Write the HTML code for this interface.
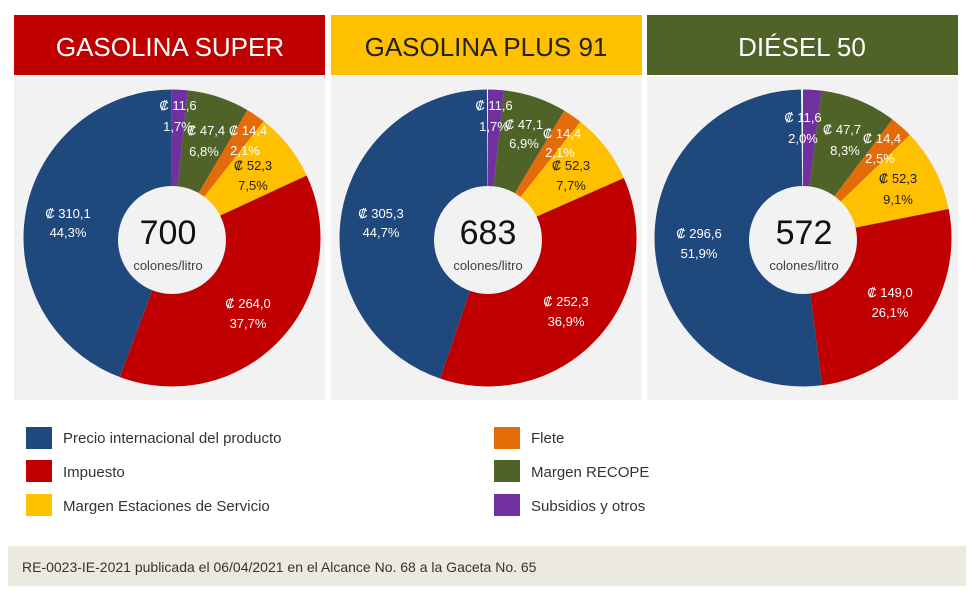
<!DOCTYPE html>
<html><head><meta charset="utf-8"><style>
body{margin:0;background:#fff;width:980px;height:596px;overflow:hidden;font-family:"Liberation Sans",sans-serif}
</style></head><body>
<svg width="980" height="596" xmlns="http://www.w3.org/2000/svg" font-family="Liberation Sans, sans-serif">
<rect x="14" y="76" width="311" height="324" fill="#f2f2f2"/>
<rect x="331" y="76" width="311" height="324" fill="#f2f2f2"/>
<rect x="647" y="76" width="311" height="324" fill="#f2f2f2"/>
<rect x="14" y="15" width="311" height="60" fill="#c00000"/>
<rect x="331" y="15" width="311" height="60" fill="#ffc000"/>
<rect x="647" y="15" width="311" height="60" fill="#4f6228"/>
<g font-size="26" text-anchor="middle">
<text x="170" y="56" fill="#fff">GASOLINA SUPER</text>
<text x="486" y="56" fill="#222">GASOLINA PLUS 91</text>
<text x="802" y="56" fill="#fff">DIÉSEL 50</text>
</g>
<g fill="none" stroke-width="97">
<g transform="rotate(-90 172 238)">
<circle cx="172" cy="238" r="100" pathLength="100" stroke="#7030a0" stroke-dasharray="1.7 100" stroke-dashoffset="0"/>
<circle cx="172" cy="238" r="100" pathLength="100" stroke="#4f6228" stroke-dasharray="6.8 100" stroke-dashoffset="-1.7"/>
<circle cx="172" cy="238" r="100" pathLength="100" stroke="#e36c09" stroke-dasharray="2.1 100" stroke-dashoffset="-8.5"/>
<circle cx="172" cy="238" r="100" pathLength="100" stroke="#ffc000" stroke-dasharray="7.5 100" stroke-dashoffset="-10.6"/>
<circle cx="172" cy="238" r="100" pathLength="100" stroke="#c00000" stroke-dasharray="37.7 100" stroke-dashoffset="-18.1"/>
<circle cx="172" cy="238" r="100" pathLength="100" stroke="#1f497d" stroke-dasharray="44.3 100" stroke-dashoffset="-55.8"/>
</g>
<g transform="rotate(-90 488 238)">
<circle cx="488" cy="238" r="100" pathLength="100" stroke="#7030a0" stroke-dasharray="1.7 100" stroke-dashoffset="0"/>
<circle cx="488" cy="238" r="100" pathLength="100" stroke="#4f6228" stroke-dasharray="6.9 100" stroke-dashoffset="-1.7"/>
<circle cx="488" cy="238" r="100" pathLength="100" stroke="#e36c09" stroke-dasharray="2.1 100" stroke-dashoffset="-8.6"/>
<circle cx="488" cy="238" r="100" pathLength="100" stroke="#ffc000" stroke-dasharray="7.7 100" stroke-dashoffset="-10.7"/>
<circle cx="488" cy="238" r="100" pathLength="100" stroke="#c00000" stroke-dasharray="36.9 100" stroke-dashoffset="-18.4"/>
<circle cx="488" cy="238" r="100" pathLength="100" stroke="#1f497d" stroke-dasharray="44.7 100" stroke-dashoffset="-55.3"/>
</g>
<g transform="rotate(-90 803 238)">
<circle cx="803" cy="238" r="100" pathLength="100" stroke="#7030a0" stroke-dasharray="2.0 100" stroke-dashoffset="0"/>
<circle cx="803" cy="238" r="100" pathLength="100" stroke="#4f6228" stroke-dasharray="8.3 100" stroke-dashoffset="-2.0"/>
<circle cx="803" cy="238" r="100" pathLength="100" stroke="#e36c09" stroke-dasharray="2.5 100" stroke-dashoffset="-10.3"/>
<circle cx="803" cy="238" r="100" pathLength="100" stroke="#ffc000" stroke-dasharray="9.1 100" stroke-dashoffset="-12.8"/>
<circle cx="803" cy="238" r="100" pathLength="100" stroke="#c00000" stroke-dasharray="26.1 100" stroke-dashoffset="-21.9"/>
<circle cx="803" cy="238" r="100" pathLength="100" stroke="#1f497d" stroke-dasharray="51.9 100" stroke-dashoffset="-48.0"/>
</g>
</g>
<g fill="#f2f2f2">
<circle cx="172" cy="240" r="54"/><circle cx="488" cy="240" r="54"/><circle cx="803" cy="240" r="54"/>
</g>
<g text-anchor="middle">
<text x="168" y="244" font-size="34" fill="#111">700</text>
<text x="168" y="270" font-size="13" fill="#404040">colones/litro</text>
<text x="488" y="244" font-size="34" fill="#111">683</text>
<text x="488" y="270" font-size="13" fill="#404040">colones/litro</text>
<text x="804" y="244" font-size="34" fill="#111">572</text>
<text x="804" y="270" font-size="13" fill="#404040">colones/litro</text>
</g>
<g font-size="13" text-anchor="middle" fill="#fff">
<text x="178" y="110">₡ 11,6</text><text x="178" y="131">1,7%</text>
<text x="206" y="135">₡ 47,4</text><text x="204" y="156">6,8%</text>
<text x="248" y="135">₡ 14,4</text><text x="245" y="155">2,1%</text>
<text x="253" y="170" fill="#222">₡ 52,3</text><text x="253" y="190" fill="#222">7,5%</text>
<text x="68" y="218">₡ 310,1</text><text x="68" y="237">44,3%</text>
<text x="248" y="308">₡ 264,0</text><text x="248" y="328">37,7%</text>

<text x="494" y="110">₡ 11,6</text><text x="494" y="131">1,7%</text>
<text x="524" y="129">₡ 47,1</text><text x="524" y="148">6,9%</text>
<text x="562" y="138">₡ 14,4</text><text x="560" y="157">2,1%</text>
<text x="571" y="170" fill="#222">₡ 52,3</text><text x="571" y="190" fill="#222">7,7%</text>
<text x="381" y="218">₡ 305,3</text><text x="381" y="237">44,7%</text>
<text x="566" y="306">₡ 252,3</text><text x="566" y="326">36,9%</text>

<text x="803" y="122">₡ 11,6</text><text x="803" y="143">2,0%</text>
<text x="842" y="134">₡ 47,7</text><text x="845" y="155">8,3%</text>
<text x="882" y="143">₡ 14,4</text><text x="880" y="163">2,5%</text>
<text x="898" y="183" fill="#222">₡ 52,3</text><text x="898" y="204" fill="#222">9,1%</text>
<text x="699" y="238">₡ 296,6</text><text x="699" y="258">51,9%</text>
<text x="890" y="297">₡ 149,0</text><text x="890" y="317">26,1%</text>
</g>
<rect x="26" y="427" width="26" height="22" fill="#1f497d"/>
<rect x="26" y="460" width="26" height="22" fill="#c00000"/>
<rect x="26" y="494" width="26" height="22" fill="#ffc000"/>
<rect x="494" y="427" width="26" height="22" fill="#e36c09"/>
<rect x="494" y="460" width="26" height="22" fill="#4f6228"/>
<rect x="494" y="494" width="26" height="22" fill="#7030a0"/>
<g font-size="15" fill="#333">
<text x="63" y="443">Precio internacional del producto</text>
<text x="63" y="477">Impuesto</text>
<text x="63" y="511">Margen Estaciones de Servicio</text>
<text x="531" y="443">Flete</text>
<text x="531" y="477">Margen RECOPE</text>
<text x="531" y="511">Subsidios y otros</text>
</g>
<rect x="8" y="546" width="958" height="40" fill="#ece9df"/>
<text x="22" y="572" font-size="14" fill="#333">RE-0023-IE-2021 publicada el 06/04/2021 en el Alcance No. 68 a la Gaceta No. 65</text>
</svg>
</body></html>
